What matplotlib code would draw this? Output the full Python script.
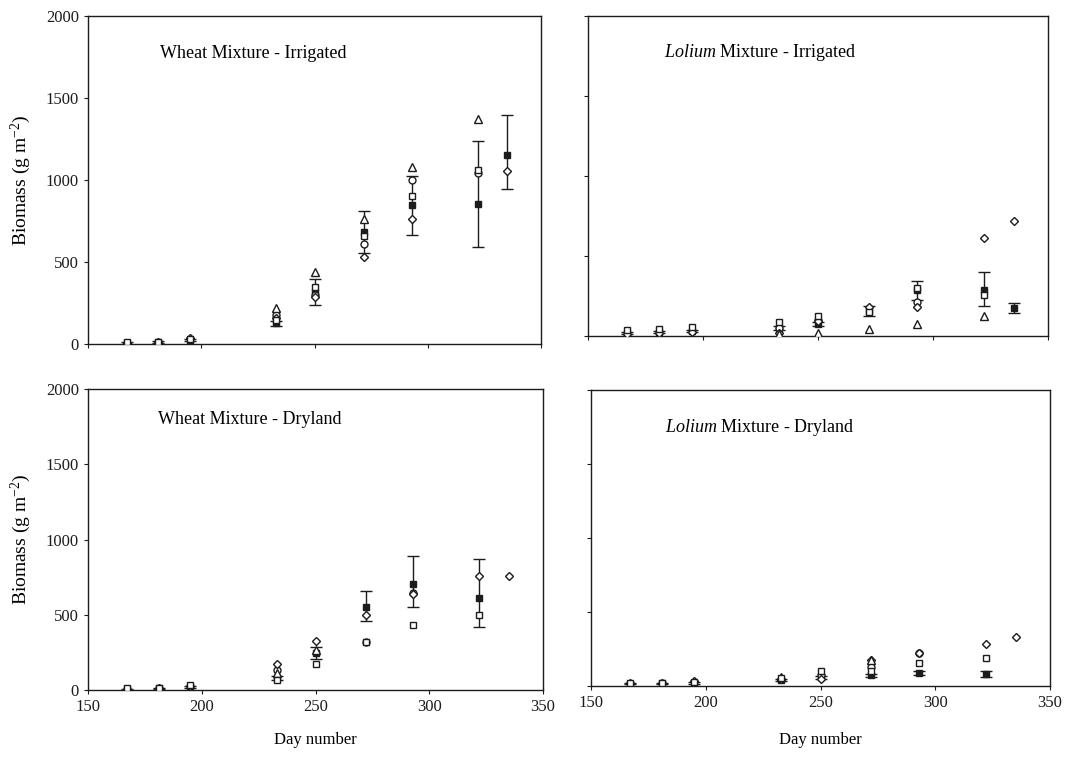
import matplotlib

matplotlib.use("Agg")
import matplotlib.pyplot as plt
import numpy as np

nan = np.nan

# sampling days (same harvest dates in all four panels)
days = [167, 181, 195, 233, 250, 272, 293, 322, 335]

# --- Wheat mixture, irrigated ---
wi_obs = [8, 12, 25, 125, 315, 680, 846, 854, 1152]
wi_err_lo = [5, 5, 8, 15, 80, 125, 180, 264, 207]
wi_err_hi = [5, 5, 8, 15, 80, 133, 180, 384, 244]
wi_sq = [10, 15, 30, 145, 346, 660, 904, 1060, nan]
wi_tri = [nan, nan, nan, 222, 437, 760, 1080, 1370, nan]
wi_circ = [nan, nan, nan, 175, 300, 612, 997, 1045, nan]
wi_dia = [5, 10, 35, 160, 285, 530, 764, nan, 1052]

# --- Lolium mixture, irrigated ---
li_obs = [20, 25, 30, 50, 75, 155, 285, 290, 175]
li_err_lo = [5, 5, 5, 10, 15, 30, 60, 100, 32]
li_err_hi = [5, 5, 5, 10, 15, 30, 60, 110, 30]
li_sq = [40, 45, 55, 90, 125, 152, 298, 256, nan]
li_tri = [nan, nan, nan, 15, 20, 42, 75, 125, nan]
li_circ = [nan, nan, nan, 50, 100, nan, 215, nan, nan]
li_dia = [15, 20, 25, 20, 95, 183, 180, 615, 720]

# --- Wheat mixture, dryland ---
wd_obs = [5, 10, 20, 80, 246, 554, 704, 609, nan]
wd_err_lo = [3, 3, 5, 15, 40, 96, 150, 188, nan]
wd_err_hi = [3, 3, 5, 15, 40, 104, 186, 261, nan]
wd_sq = [10, 12, 30, 66, 171, 317, 432, 498, nan]
wd_tri = [nan, nan, nan, 110, 266, nan, nan, nan, nan]
wd_circ = [nan, nan, nan, 133, nan, 320, 647, nan, nan]
wd_dia = [8, 15, 25, 171, 326, 498, 640, 757, 757]

# --- Lolium mixture, dryland ---
ld_obs = [15, 18, 20, 40, 60, 72, 86, 83, nan]
ld_err_lo = [4, 4, 4, 8, 10, 12, 12, 20, nan]
ld_err_hi = [4, 4, 4, 8, 10, 12, 12, 20, nan]
ld_sq = [20, 22, 30, 52, 104, 101, 157, 191, nan]
ld_tri = [nan, nan, nan, 60, nan, 174, nan, nan, nan]
ld_circ = [nan, nan, nan, nan, 74, 130, 220, nan, nan]
ld_dia = [18, 20, 35, 45, 45, 174, 225, 287, 331]

INK = "#1c1c1c"

plt.rcParams["font.family"] = ["Liberation Serif", "DejaVu Serif"]
plt.rcParams["mathtext.fontset"] = "custom"
plt.rcParams["mathtext.rm"] = "Liberation Serif"
plt.rcParams["mathtext.it"] = "Liberation Serif:italic"
plt.rcParams["font.size"] = 12


def draw_panel(ax, obs, lo, hi, sq, tri, circ, dia):
    ax.errorbar(days, obs, yerr=[lo, hi], fmt="none", ecolor=INK, elinewidth=1.0,
                capsize=4, capthick=1.0, zorder=2)
    # observed mean sits under the open model symbols where they overlap
    ax.plot(days, obs, marker="s", ms=5, ls="none", mfc=INK, mec=INK, zorder=2.5)
    open_kw = dict(ls="none", mfc="white", mec=INK, mew=1.0, zorder=3)
    ax.plot(days, circ, marker="o", ms=5, **open_kw)
    ax.plot(days, dia, marker="D", ms=4, **open_kw)
    ax.plot(days, tri, marker="^", ms=5.5, **open_kw)
    ax.plot(days, sq, marker="s", ms=5, **open_kw)
    ax.set_xlim(150, 350)
    ax.set_ylim(0, 2000)
    ax.set_xticks([150, 200, 250, 300, 350])
    ax.set_yticks([0, 500, 1000, 1500, 2000])
    ax.tick_params(direction="out", length=3, width=0.8, colors=INK, labelsize=12)
    for sp in ax.spines.values():
        sp.set_color(INK)
        sp.set_linewidth(1.0)


fig = plt.figure(figsize=(10.65, 7.64), dpi=100)
W, H = 1065.0, 764.0


def add_axes(left, top, right, bottom):
    return fig.add_axes([left / W, 1 - bottom / H, (right - left) / W, (bottom - top) / H])


ax_wi = add_axes(88, 16, 541, 344)
ax_li = add_axes(588, 16, 1048, 336)
ax_wd = add_axes(88, 389, 543, 690)
ax_ld = add_axes(591, 390, 1050, 686)

draw_panel(ax_wi, wi_obs, wi_err_lo, wi_err_hi, wi_sq, wi_tri, wi_circ, wi_dia)
draw_panel(ax_li, li_obs, li_err_lo, li_err_hi, li_sq, li_tri, li_circ, li_dia)
draw_panel(ax_wd, wd_obs, wd_err_lo, wd_err_hi, wd_sq, wd_tri, wd_circ, wd_dia)
draw_panel(ax_ld, ld_obs, ld_err_lo, ld_err_hi, ld_sq, ld_tri, ld_circ, ld_dia)

for ax in (ax_wi, ax_li):
    ax.tick_params(labelbottom=False)
for ax in (ax_li, ax_ld):
    ax.tick_params(labelleft=False)
for ax in (ax_wi, ax_wd):
    ax.set_ylabel("Biomass (g m$^{-2}$)", fontsize=14, labelpad=9)
ax_wd.set_xlabel("Day number", fontsize=12, labelpad=12)
ax_ld.set_xlabel("Day number", fontsize=12, labelpad=15)

title_kw = dict(fontsize=13, va="center")
ax_wi.text(0.159, 0.887, "Wheat Mixture - Irrigated", transform=ax_wi.transAxes, **title_kw)
ax_li.text(0.165, 0.885, r"$\it{Lolium}$ Mixture - Irrigated", transform=ax_li.transAxes, **title_kw)
ax_wd.text(0.154, 0.900, "Wheat Mixture - Dryland", transform=ax_wd.transAxes, **title_kw)
ax_ld.text(0.161, 0.872, r"$\it{Lolium}$ Mixture - Dryland", transform=ax_ld.transAxes, **title_kw)

fig.savefig("out.png", dpi=100)
